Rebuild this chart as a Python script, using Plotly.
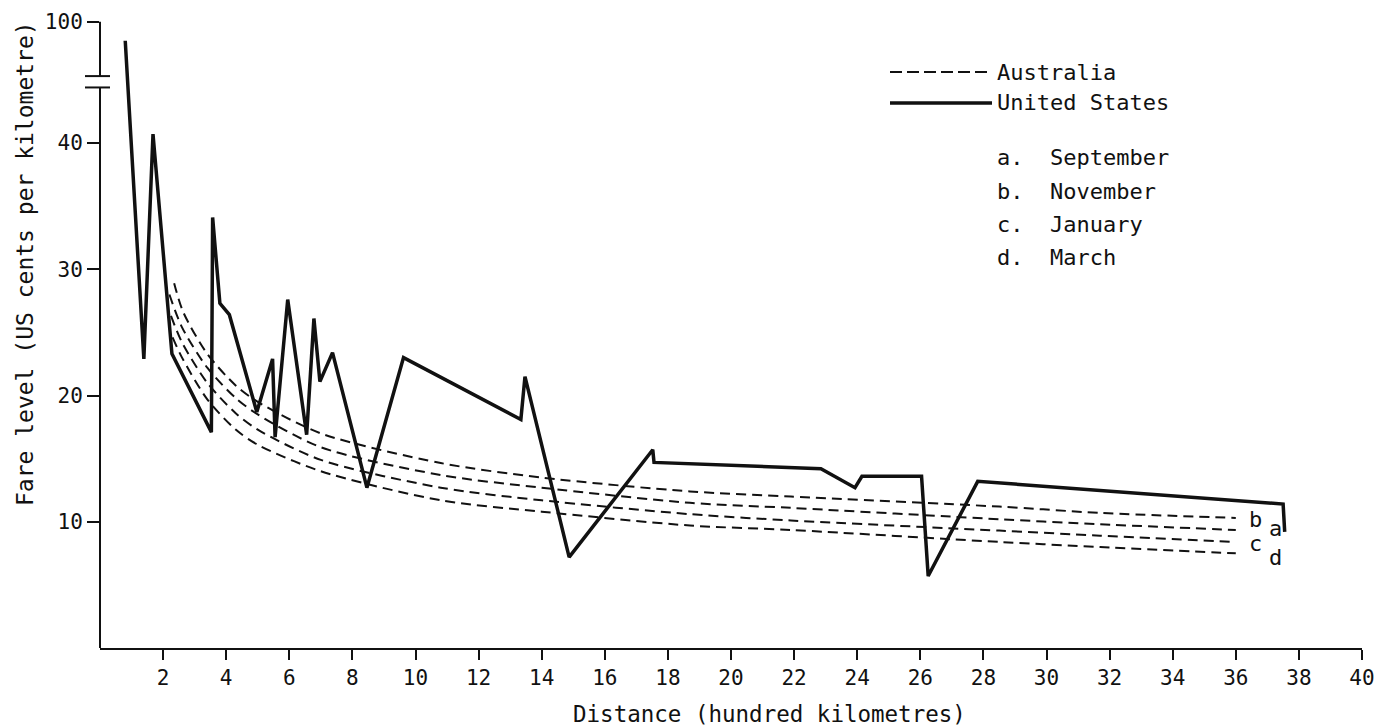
import plotly.graph_objects as go

# ---------------- data ----------------
US_DIST = [0.8, 1.39, 1.68, 2.28, 3.53, 3.57, 3.80, 4.10, 4.97, 5.47, 5.55, 5.95, 6.55, 6.78,
           6.97, 7.37, 8.46, 9.62, 13.34, 13.47, 14.87, 17.52, 17.56, 22.85, 23.93, 24.15,
           26.04, 26.25, 27.82, 37.50, 37.55]
US_FARE = [85.0, 22.9, 40.7, 23.3, 17.1, 34.1, 27.3, 26.4, 18.7, 22.9, 16.7, 27.6, 16.9, 26.1,
           21.1, 23.4, 12.7, 23.0, 18.1, 21.5, 7.2, 15.7, 14.7, 14.2, 12.7, 13.6,
           13.6, 5.7, 13.2, 11.4, 9.2]

AUS_B_DIST = [2.35, 2.64, 3.4, 4.3, 5.0, 7.0, 10.8, 14.0, 18.7, 21.9, 28.5, 31.7, 36.0]
AUS_B_FARE = [28.9, 26.6, 23.3, 20.8, 19.5, 17.0, 14.65, 13.5, 12.4, 12.0, 11.2, 10.7, 10.3]
AUS_A_DIST = [2.2, 2.6, 3.4, 4.3, 5.0, 7.0, 10.8, 14.0, 18.7, 21.9, 28.5, 31.7, 36.0]
AUS_A_FARE = [28.0, 25.4, 22.2, 19.8, 18.5, 15.9, 13.7, 12.7, 11.5, 11.1, 10.2, 9.8, 9.35]
AUS_C_DIST = [2.25, 2.6, 3.4, 4.3, 5.0, 7.0, 10.8, 14.0, 18.7, 21.9, 28.5, 31.7, 36.0]
AUS_C_FARE = [26.3, 24.2, 21.0, 18.6, 17.3, 14.9, 12.7, 11.7, 10.6, 10.1, 9.3, 8.9, 8.4]
AUS_D_DIST = [2.3, 2.6, 3.4, 4.3, 5.0, 7.0, 10.8, 14.0, 18.7, 21.9, 28.5, 31.7, 36.0]
AUS_D_FARE = [24.6, 23.0, 19.7, 17.3, 16.1, 14.0, 11.7, 10.8, 9.7, 9.35, 8.4, 8.0, 7.5]

CURVE_LABELS = ["b", "a", "c", "d"]
MONTH_KEYS = ["a.  September", "b.  November", "c.  January", "d.  March"]
SERIES_NAMES = ["Australia", "United States"]
X_TICKS = list(range(2, 41, 2))
Y_TICKS = [10, 20, 30, 40, 100]

# ---------------- broken y-axis transform ----------------
BREAK_LO = 44.0
TOP_DISP = 49.6
YMAX = 50.06


def fy(v):
    if v <= BREAK_LO:
        return v
    return BREAK_LO + (v - BREAK_LO) * (TOP_DISP - BREAK_LO) / (100 - BREAK_LO)


FONT = "DejaVu Sans Mono"
INK = "#111111"

fig = go.Figure()

for xs, ys in [(AUS_B_DIST, AUS_B_FARE), (AUS_A_DIST, AUS_A_FARE),
               (AUS_C_DIST, AUS_C_FARE), (AUS_D_DIST, AUS_D_FARE)]:
    fig.add_trace(go.Scatter(
        x=xs, y=[fy(v) for v in ys], mode="lines", name=SERIES_NAMES[0],
        line=dict(color=INK, width=2, dash="10px,6px", shape="spline", smoothing=0.8),
        showlegend=False, hoverinfo="skip"))

fig.add_trace(go.Scatter(
    x=US_DIST, y=[fy(v) for v in US_FARE], mode="lines", name=SERIES_NAMES[1],
    line=dict(color=INK, width=3.5), showlegend=False, hoverinfo="skip"))

# curve end labels
label_pos = [(36.35, 10.2), (36.99, 9.5), (36.35, 8.3), (36.99, 7.2)]
ann = []
for lab, (lx, ly) in zip(CURVE_LABELS, label_pos):
    ann.append(dict(x=lx, y=fy(ly), xref="x", yref="y", text=lab, showarrow=False,
                    xanchor="left", yanchor="middle", font=dict(family=FONT, size=22, color=INK)))


def px2paper(px, py):
    # page pixel -> paper fraction (plot area spans x 100..1362, y 16..648 on the page)
    return (px - 100) / 1262.0, (648 - py) / 632.0


# custom legend
shapes = []
lx0, ly = px2paper(890, 72)
lx1, _ = px2paper(992, 72)
shapes.append(dict(type="line", xref="paper", yref="paper", x0=lx0, x1=lx1, y0=ly, y1=ly,
                   line=dict(color=INK, width=1.8, dash="12px,5px")))
tx, _ = px2paper(995, 72)
ann.append(dict(x=tx, y=ly, xref="paper", yref="paper", text=SERIES_NAMES[0], showarrow=False,
                xanchor="left", yanchor="middle", font=dict(family=FONT, size=22, color=INK)))
_, ly2 = px2paper(0, 103)
shapes.append(dict(type="line", xref="paper", yref="paper", x0=lx0, x1=lx1, y0=ly2, y1=ly2,
                   line=dict(color=INK, width=3.5)))
ann.append(dict(x=tx, y=ly2, xref="paper", yref="paper", text=SERIES_NAMES[1], showarrow=False,
                xanchor="left", yanchor="middle", font=dict(family=FONT, size=22, color=INK)))
for i, key in enumerate(MONTH_KEYS):
    _, ky = px2paper(0, 158 + 33 * i)
    ann.append(dict(x=tx, y=ky, xref="paper", yref="paper", text=key.replace(" ", "&nbsp;"),
                    showarrow=False, xanchor="left", yanchor="middle",
                    font=dict(family=FONT, size=22, color=INK)))

# axis titles
ax, ay = px2paper(25, 264)
ann.append(dict(x=ax, y=ay, xref="paper", yref="paper", text="Fare level (US cents per kilometre)",
                textangle=-90, showarrow=False, xanchor="center", yanchor="middle",
                font=dict(family=FONT, size=23, color=INK)))
bx, by = px2paper(769, 714)
ann.append(dict(x=bx, y=by, xref="paper", yref="paper", text="Distance (hundred kilometres)",
                showarrow=False, xanchor="center", yanchor="middle",
                font=dict(family=FONT, size=22.5, color=INK)))

# broken y axis line
b_lo = fy(BREAK_LO) + 0.4
b_hi = b_lo + 0.9
shapes.append(dict(type="line", xref="paper", yref="paper", x0=0, x1=0, y0=0, y1=b_lo / YMAX,
                   line=dict(color=INK, width=2)))
shapes.append(dict(type="line", xref="paper", yref="paper", x0=0, x1=0, y0=b_hi / YMAX,
                   y1=TOP_DISP / YMAX, line=dict(color=INK, width=2)))
for yb in (b_lo, b_hi):
    shapes.append(dict(type="line", xref="paper", yref="paper", x0=-15 / 1262, x1=10 / 1262,
                       y0=yb / YMAX, y1=yb / YMAX, line=dict(color=INK, width=2)))

# the page body adds an 8px margin, so the figure is 8px smaller and margins shifted
fig.update_layout(
    width=1376, height=720, autosize=False,
    margin=dict(l=92, r=22, t=8, b=80, autoexpand=False),
    plot_bgcolor="white", paper_bgcolor="white",
    showlegend=False,
    font=dict(family=FONT, size=21, color=INK),
    xaxis=dict(range=[0, 40], tickmode="array", tickvals=X_TICKS,
               ticktext=[str(t) for t in X_TICKS], ticks="outside", ticklen=10, tickwidth=2,
               tickcolor=INK, showline=True, linecolor=INK, linewidth=2, showgrid=False,
               zeroline=False, tickfont=dict(family=FONT, size=21, color=INK),
               ticklabeloverflow="allow", automargin=False),
    yaxis=dict(range=[0, YMAX], tickmode="array", tickvals=[fy(v) for v in Y_TICKS],
               ticktext=[str(v) for v in Y_TICKS], ticks="outside", ticklen=12, tickwidth=2,
               tickcolor=INK, showline=False, showgrid=False, zeroline=False,
               tickfont=dict(family=FONT, size=21, color=INK),
               ticklabeloverflow="allow", automargin=False),
    shapes=shapes, annotations=ann,
)

fig.write_html("out.html")
